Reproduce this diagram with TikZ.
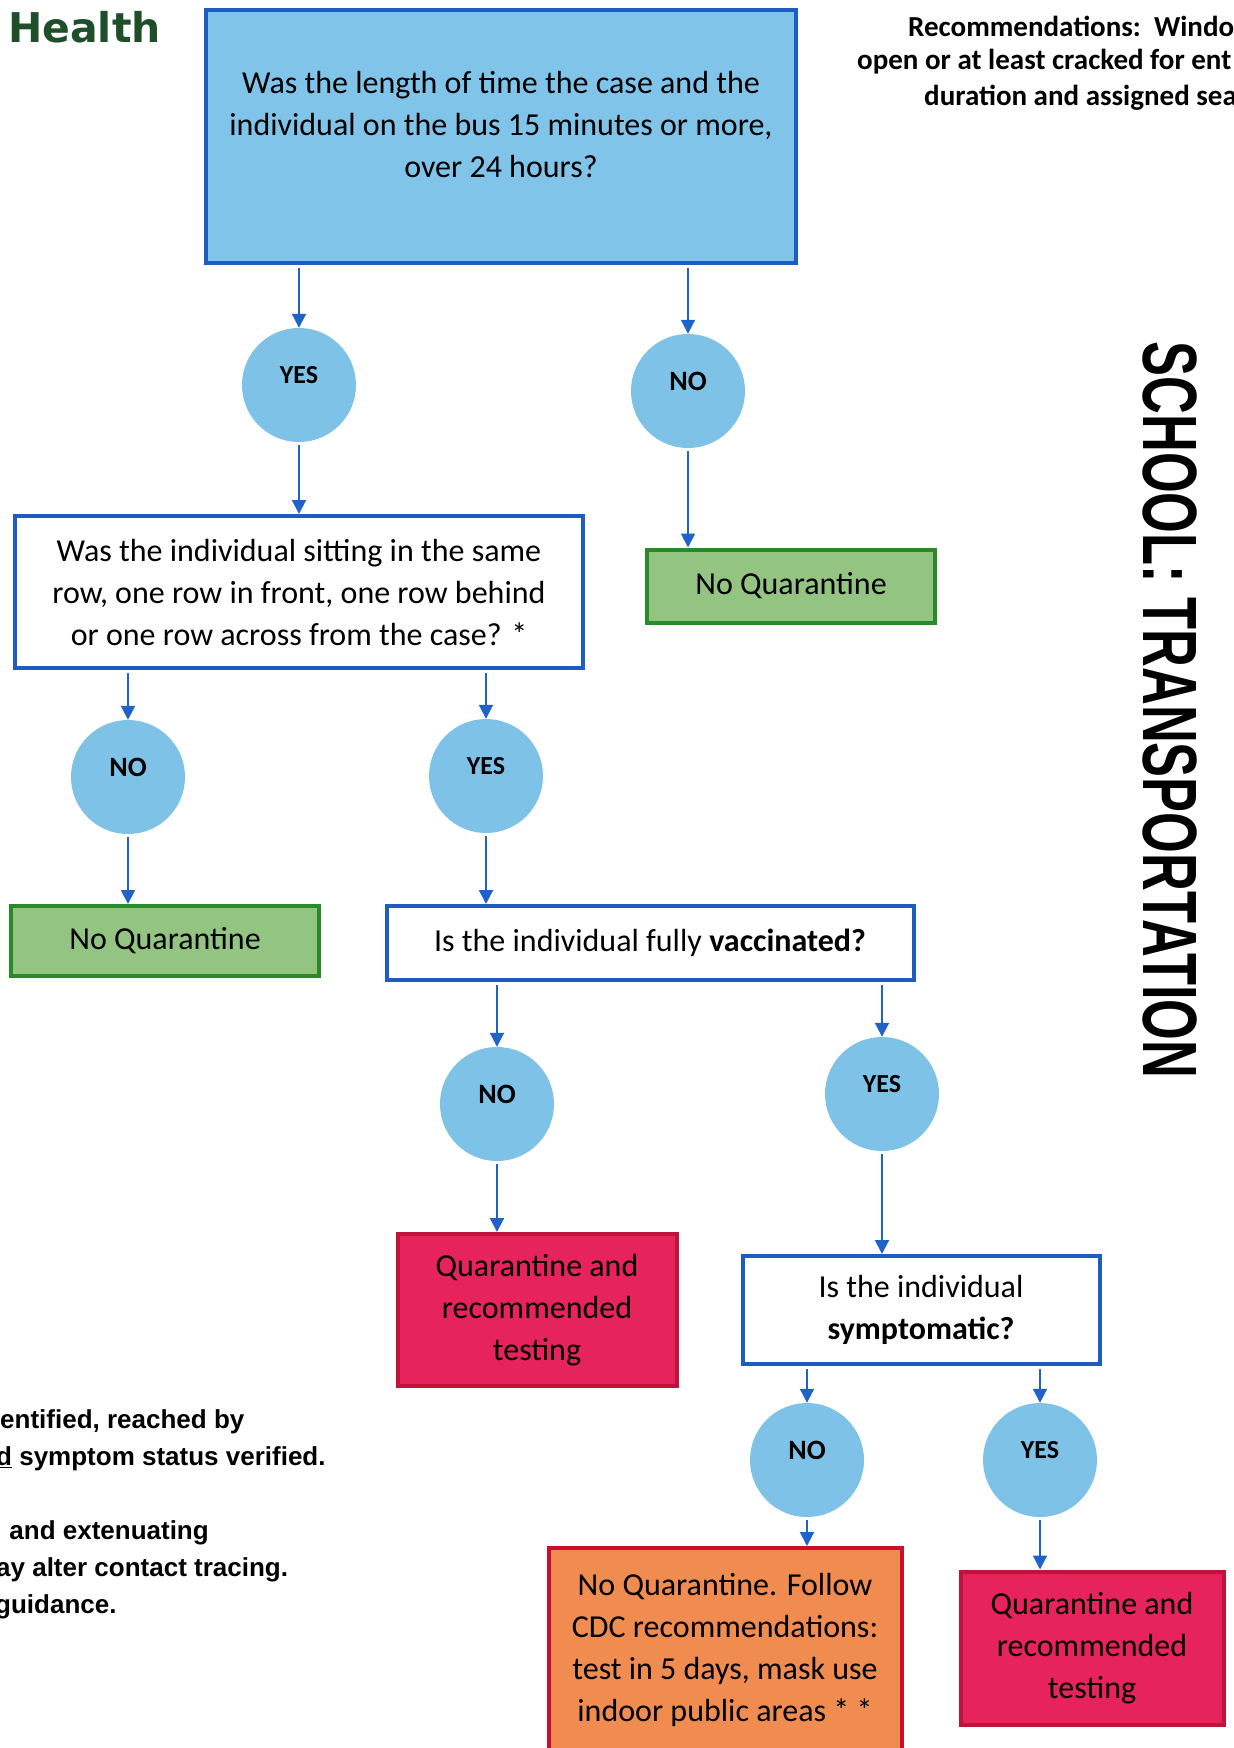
\documentclass[tikz,border=0pt]{standalone}
\usepackage{fontspec}
\setmainfont{Carlito}
\newfontfamily\arialfont{Liberation Sans}
\newfontfamily\healthfont{DejaVu Sans}
\usepackage{tikz}
\usetikzlibrary{arrows.meta, positioning, shapes}

\definecolor{boxblue}{HTML}{80C4EA}
\definecolor{circblue}{HTML}{7EC2E8}
\definecolor{lineblue}{HTML}{1E5CC0}
\definecolor{arrowblue}{HTML}{1F63C8}
\definecolor{nqfill}{HTML}{94C482}
\definecolor{nqline}{HTML}{2A8A2A}
\definecolor{qfill}{HTML}{E6235A}
\definecolor{qline}{HTML}{BE143C}
\definecolor{ofill}{HTML}{F08C50}
\definecolor{oline}{HTML}{C8102E}
\definecolor{healthgreen}{HTML}{1F4F2A}

\begin{document}
\begin{tikzpicture}[x=1pt, y=-1pt, inner sep=0pt,
  txt/.style={align=center, font=\fontsize{32}{42}\selectfont},
  qbox/.style={txt, rectangle, draw=lineblue, line width=4pt, fill=white},
  nqbox/.style={txt, rectangle, draw=nqline, line width=4pt, fill=nqfill},
  qtbox/.style={txt, rectangle, draw=qline, line width=4pt, fill=qfill},
  obox/.style={txt, rectangle, draw=oline, line width=4pt, fill=ofill},
  yes/.style={circle, fill=circblue, minimum size=114pt, text depth=20pt, font=\fontsize{26}{30}\selectfont\bfseries},
  no/.style={circle, fill=circblue, minimum size=114pt, text depth=20pt, font=\fontsize{28}{30}\selectfont\bfseries},
  arr/.style={draw=arrowblue, line width=2pt, shorten <=3pt, -{Triangle[length=14pt,width=14pt]}},
  note/.style={anchor=west, font=\arialfont\bfseries\fontsize{26}{37}\selectfont},
  rec/.style={anchor=west, font=\bfseries\fontsize{29}{36}\selectfont}]
\useasboundingbox (0,0) rectangle (1234,1748);

\node[anchor=base west, text=healthgreen, font=\healthfont\bfseries\fontsize{41}{45}\selectfont] (H) at (8,42) {Health};
\node[rec] (R1) at (908,26) {Recommendations:~~Windo};
\node[rec] (R2) at (857,62) {open or at least cracked for ent};
\node[rec] (R3) at (924,98) {duration and assigned sea};
\node[rotate=-90, font=\arialfont\bfseries\fontsize{77}{80}\selectfont] (S) at (1170,710) {\scalebox{0.68}[1]{SCHOOL: TRANSPORTATION}};

\node[qbox, fill=boxblue, minimum width=590pt, minimum height=253pt] (Q1) at (501,136) {};
\node[txt] (T1) at (501,125) {Was the length of time the case and the\\individual on the bus 15 minutes or more,\\over 24 hours?};
\node[yes] (Y1) at (299,385) {YES};
\node[no] (N1) at (688,391) {NO};
\node[qbox, minimum width=568pt, minimum height=152pt] (Q2) at (299,592) {Was the individual sitting in the same\\row, one row in front, one row behind\\or one row across from the case? *};
\node[nqbox, minimum width=288pt, minimum height=73pt] (G1) at (791,586) {No Quarantine};
\node[no] (N2) at (128,777) {NO};
\node[yes] (Y2) at (486,776) {YES};
\node[nqbox, minimum width=308pt, minimum height=70pt] (G2) at (165,941) {No Quarantine};
\node[qbox, minimum width=527pt, minimum height=74pt] (Q3) at (650,943) {Is the individual fully \textbf{vaccinated?}};
\node[no] (N3) at (497,1104) {NO};
\node[yes] (Y3) at (882,1094) {YES};
\node[qtbox, minimum width=279pt, minimum height=152pt] (X1) at (537,1310) {Quarantine and\\recommended\\testing};
\node[qbox, minimum width=357pt, minimum height=108pt] (Q4) at (921,1310) {Is the individual\\\textbf{symptomatic?}};
\node[no] (N4) at (807,1460) {NO};
\node[yes] (Y4) at (1040,1460) {YES};
\node[obox, minimum width=353pt, minimum height=204pt] (O1) at (725,1650) {No Quarantine. Follow\\CDC recommendations:\\test in 5 days, mask use\\indoor public areas * *};
\node[qtbox, minimum width=263pt, minimum height=153pt] (X2) at (1092,1648) {Quarantine and\\recommended\\testing};

\node[note] (L1) at (0,1422) {entified, reached by};
\node[note] (L2) at (-4,1459) {\underline{d} symptom status verified.};
\node[note] (L3) at (2,1533) {~and extenuating};
\node[note] (L4) at (-4,1570) {ay alter contact tracing.};
\node[note] (L5) at (-5,1607) {guidance.};

\draw[arr] (Y1 |- Q1.south) -- (Y1.north);
\draw[arr] (N1 |- Q1.south) -- (N1.north);
\draw[arr] (Y1.south) -- (Y1 |- Q2.north);
\draw[arr] (N1.south) -- (N1 |- G1.north);
\draw[arr] (N2 |- Q2.south) -- (N2.north);
\draw[arr] (Y2 |- Q2.south) -- (Y2.north);
\draw[arr] (N2.south) -- (N2 |- G2.north);
\draw[arr] (Y2.south) -- (Y2 |- Q3.north);
\draw[arr] (N3 |- Q3.south) -- (N3.north);
\draw[arr] (Y3 |- Q3.south) -- (Y3.north);
\draw[arr] (N3.south) -- (N3 |- X1.north);
\draw[arr] (Y3.south) -- (Y3 |- Q4.north);
\draw[arr] (N4 |- Q4.south) -- (N4.north);
\draw[arr] (Y4 |- Q4.south) -- (Y4.north);
\draw[arr] (N4.south) -- (N4 |- O1.north);
\draw[arr] (Y4.south) -- (Y4 |- X2.north);
\end{tikzpicture}
\end{document}
